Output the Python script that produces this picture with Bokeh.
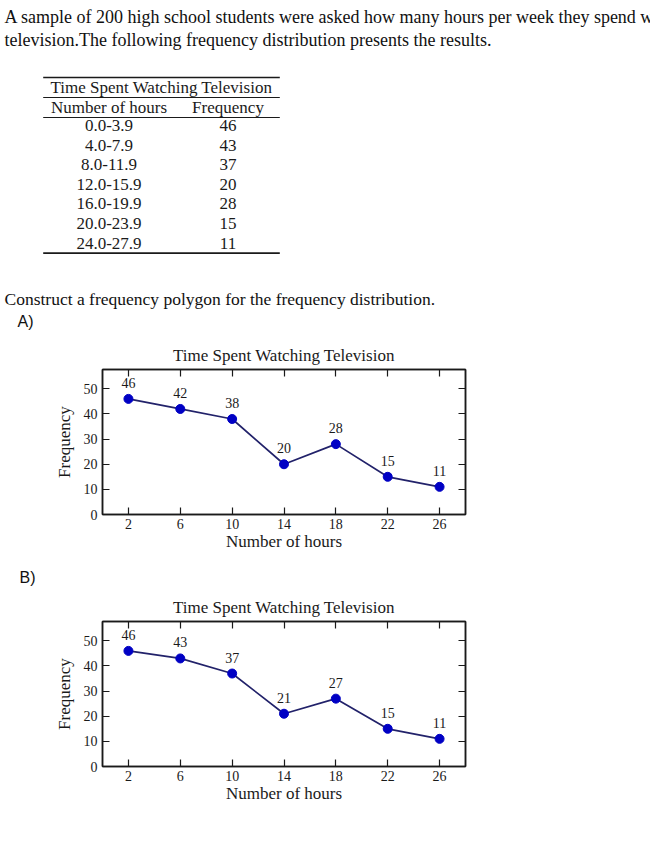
from bokeh.plotting import figure
from bokeh.models import Range1d, LinearAxis, FixedTicker
from bokeh.layouts import column
from bokeh.embed import file_html
from bokeh.resources import INLINE
from bokeh.core.properties import value

# ---------------- data ----------------
intro_lines = [
    "A sample of 200 high school students were asked how many hours per week they spend watching",
    "television.The following frequency distribution presents the results.",
]
table_title = "Time Spent Watching Television"
col_headers = ["Number of hours", "Frequency"]
classes = ["0.0-3.9", "4.0-7.9", "8.0-11.9", "12.0-15.9", "16.0-19.9", "20.0-23.9", "24.0-27.9"]
table_freq = [46, 43, 37, 20, 28, 15, 11]
question = "Construct a frequency polygon for the frequency distribution."
option_labels = ["A)", "B)"]
chart_title = "Time Spent Watching Television"
x_label = "Number of hours"
y_label = "Frequency"
midpoints = [2, 6, 10, 14, 18, 22, 26]
freq_a = [46, 42, 38, 20, 28, 15, 11]
freq_b = [46, 43, 37, 21, 27, 15, 11]
x_ticks = [2, 6, 10, 14, 18, 22, 26]
y_ticks = [0, 10, 20, 30, 40, 50]

# ---------------- styles ----------------
W = 650
SERIF = "Liberation Serif"
SANS = "Liberation Sans"
INK = "#1a1a1a"
LINE_C = "#22226a"
DOT_C = "#0000c4"


def canvas(h):
    f = figure(width=W, height=h, x_range=Range1d(0, W), y_range=Range1d(h, 0),
               output_backend="svg", toolbar_location=None, min_border=0,
               x_axis_type=None, y_axis_type=None, outline_line_color=None)
    f.grid.visible = False
    f.frame_align = False
    return f


# ---------------- top text + table ----------------
TOP_H = 334
top = canvas(TOP_H)
top.text(x=[4, 4], y=[16, 39], text=intro_lines, text_font=value(SERIF),
         text_font_size="18px", text_baseline="middle", text_align="left", text_color="#111111")

t_left, t_right = 42.7, 279.3
col1_x, col2_x = 108.5, 227.5
title_y, header_y = 87, 107
row0, row_step = 125, 19.6
rules_y = [77, 97, 117, row0 + row_step * (len(classes) - 1) + 10]
rules_w = [1.6, 1.0, 1.0, 1.6]
top.segment(x0=[t_left] * 4, x1=[t_right] * 4, y0=rules_y, y1=rules_y,
            line_color=INK, line_width=rules_w)
top.text(x=[(t_left + t_right) / 2], y=[title_y], text=[table_title], text_font=value(SERIF),
         text_font_size="17px", text_align="center", text_baseline="middle", text_color=INK)
top.text(x=[col1_x, col2_x], y=[header_y, header_y], text=col_headers, text_font=value(SERIF),
         text_font_size="17px", text_align="center", text_baseline="middle", text_color=INK)
row_y = [row0 + i * row_step for i in range(len(classes))]
top.text(x=[col1_x] * len(classes), y=row_y, text=classes, text_font=value(SERIF),
         text_font_size="17px", text_align="center", text_baseline="middle", text_color=INK)
top.text(x=[col2_x] * len(classes), y=row_y, text=[str(v) for v in table_freq], text_font=value(SERIF),
         text_font_size="17px", text_align="center", text_baseline="middle", text_color=INK)

top.text(x=[4], y=[298], text=[question], text_font=value(SERIF), text_font_size="17.5px",
         text_baseline="middle", text_align="left", text_color="#111111")
top.text(x=[17], y=[321], text=[option_labels[0]], text_font=value(SANS), text_font_size="16px",
         text_baseline="middle", text_align="left", text_color="#111111")


# ---------------- charts ----------------
def style_axis(ax, ticks, show_labels):
    ax.ticker = FixedTicker(ticks=ticks)
    ax.major_tick_in = 7
    ax.major_tick_out = 0
    ax.minor_tick_line_color = None
    ax.axis_line_color = INK
    ax.axis_line_width = 1.5
    ax.major_tick_line_color = INK
    ax.major_tick_line_width = 1.2
    ax.major_label_text_font = SERIF
    ax.major_label_text_color = INK
    if show_labels:
        ax.major_label_text_font_size = "14px"
    else:
        ax.major_label_text_font_size = "1px"
        ax.major_label_text_color = None
        ax.major_label_standoff = 0


def make_chart(vals, h=226):
    p = figure(width=W, height=h, x_range=Range1d(0, 28), y_range=Range1d(0, 57.7),
               output_backend="svg", toolbar_location=None,
               x_axis_type=None, y_axis_type=None,
               min_border_left=102, min_border_right=W - 465,
               min_border_top=35, min_border_bottom=46)
    p.frame_align = False
    p.grid.visible = False
    p.outline_line_color = INK
    p.outline_line_width = 1.5

    p.title.text = chart_title
    p.title.align = "center"
    p.title.text_font = SERIF
    p.title.text_font_size = "17px"
    p.title.text_font_style = "normal"
    p.title.text_color = INK
    p.title.standoff = 9

    bottom = LinearAxis(axis_label=x_label)
    style_axis(bottom, x_ticks, True)
    bottom.major_label_standoff = 4
    bottom.axis_label_standoff = 0
    left = LinearAxis(axis_label=y_label)
    style_axis(left, y_ticks, True)
    left.major_label_standoff = 5
    left.axis_label_standoff = 7
    for ax in (bottom, left):
        ax.axis_label_text_font = SERIF
        ax.axis_label_text_font_size = "17px"
        ax.axis_label_text_font_style = "normal"
        ax.axis_label_text_color = INK
    right = LinearAxis()
    style_axis(right, y_ticks, False)
    above = LinearAxis()
    style_axis(above, x_ticks, False)
    p.add_layout(bottom, "below")
    p.add_layout(left, "left")
    p.add_layout(right, "right")
    p.add_layout(above, "above")

    p.line(midpoints, vals, line_color=LINE_C, line_width=1.7)
    p.scatter(midpoints, vals, size=9, fill_color=DOT_C, line_color=DOT_C)
    p.text(midpoints, vals, text=[str(v) for v in vals], y_offset=-16,
           text_font=value(SERIF), text_font_size="14px", text_align="center",
           text_baseline="middle", text_color=INK)
    return p


chart_a = make_chart(freq_a)
mid = canvas(26)
mid.text(x=[19], y=[17], text=[option_labels[1]], text_font=value(SANS), text_font_size="16px",
         text_baseline="middle", text_align="left", text_color="#111111")
chart_b = make_chart(freq_b)

layout = column(top, chart_a, mid, chart_b, spacing=0)
open("out.html", "w").write(file_html(layout, INLINE))
